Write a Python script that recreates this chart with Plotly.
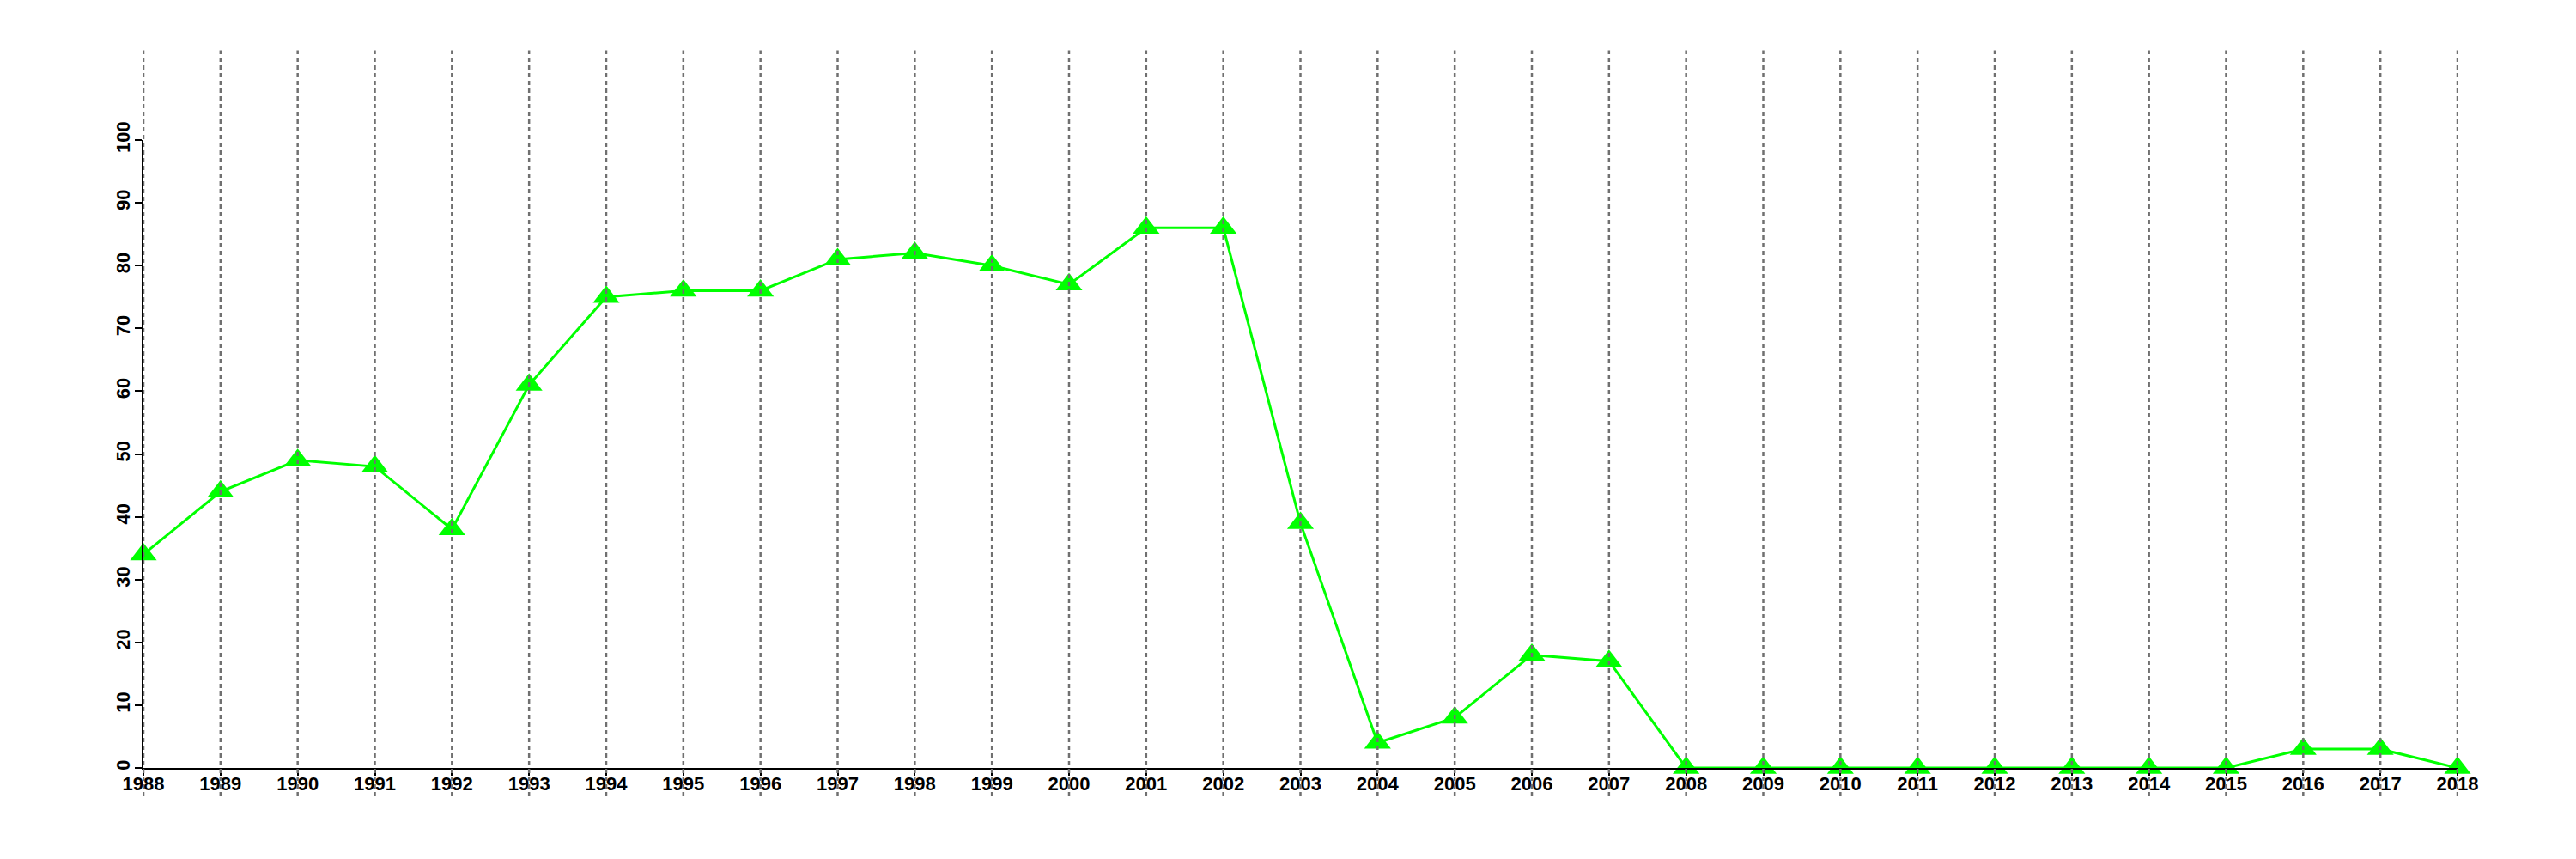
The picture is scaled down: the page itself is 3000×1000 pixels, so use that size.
import plotly.graph_objects as go

years = list(range(1988, 2019))
values = [34, 44, 49, 48, 38, 61, 75, 76, 76, 81, 82, 80, 77, 86, 86,
          39, 4, 8, 18, 17, 0, 0, 0, 0, 0, 0, 0, 0, 3, 3, 0]
y_ticks = list(range(0, 101, 10))

fig = go.Figure()
fig.add_trace(go.Scatter(
    x=years, y=values, mode="lines+markers",
    line=dict(color="#00ff00", width=3),
    marker=dict(symbol="triangle-up", size=27, color="#00ff00"),
    cliponaxis=False, showlegend=False,
))

for yr in years:
    fig.add_shape(type="line", xref="x", yref="paper", x0=yr, x1=yr,
                  y0=-0.045, y1=1.143, layer="above",
                  line=dict(color="#707070", width=2.5, dash="5px,4px"))

font = dict(family="Liberation Sans, Arial", size=22, color="black", weight="bold")
fig.update_xaxes(range=[1988, 2018], tickvals=years, ticktext=[str(y) for y in years],
                 showgrid=False, zeroline=False, showline=True, linecolor="black",
                 linewidth=2, ticks="outside", ticklen=7, tickwidth=2, tickcolor="black",
                 tickfont=font, ticklabelstandoff=-9)
fig.update_yaxes(range=[0, 100], tickvals=y_ticks, showgrid=False, zeroline=False,
                 showline=True, linecolor="black", linewidth=2, ticks="outside",
                 ticklen=8, tickwidth=2, tickcolor="black", tickangle=-90, tickfont=font,
                 ticklabelstandoff=-3)
fig.update_layout(width=2984, height=984, plot_bgcolor="white", paper_bgcolor="white",
                  margin=dict(l=159, r=130, t=155, b=98, autoexpand=False))
fig.write_html("out.html")
